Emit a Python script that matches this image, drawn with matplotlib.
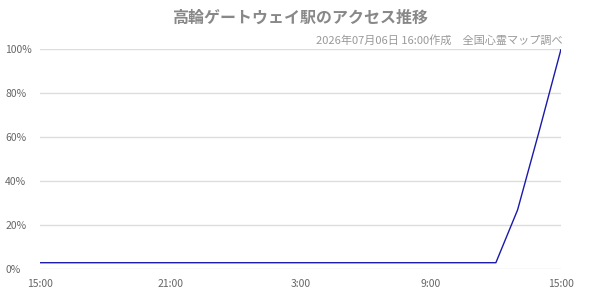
import matplotlib
matplotlib.use("Agg")
import matplotlib.pyplot as plt
import matplotlib.transforms as mtransforms

plt.rcParams['font.family'] = ['Noto Sans CJK JP', 'DejaVu Sans']

title = "高輪ゲートウェイ駅のアクセス推移"
subtitle = "2026年07月06日 16:00作成　全国心霊マップ調べ"

# hours since 15:00 the previous day
hours = list(range(25))
access = [3, 3, 3, 3, 3, 3, 3, 3, 3, 3, 3, 3, 3, 3, 3, 3, 3, 3, 3, 3, 3, 3, 27, 63, 100]

tick_pos = [0, 6, 12, 18, 24]
tick_labels = ["15:00", "21:00", "3:00", "9:00", "15:00"]
y_ticks = [0, 20, 40, 60, 80, 100]

fig = plt.figure(figsize=(6, 3), dpi=100)
ax = fig.add_axes([0.0667, 0.1023, 0.8683, 0.7334])

ax.plot(hours, access, color="#1a1aa8", linewidth=1)

ax.set_xlim(0, 24)
ax.set_ylim(0, 100)
ax.set_xticks(tick_pos)
ax.set_xticklabels(tick_labels)
ax.set_yticks(y_ticks)
ax.set_yticklabels([f"{v}%" for v in y_ticks])
for lbl in ax.get_yticklabels():
    lbl.set_horizontalalignment("left")

# x labels sit a little left of their ticks in the original
shift = mtransforms.ScaledTranslation(-4 / 72, 0, fig.dpi_scale_trans)
for lbl in ax.get_xticklabels():
    lbl.set_transform(lbl.get_transform() + shift)

ax.tick_params(axis="both", length=0, labelsize=7.5, colors="#666666")
ax.tick_params(axis="y", pad=25)
ax.tick_params(axis="x", pad=7)
ax.grid(axis="y", color="#dddddd", linewidth=1)
ax.set_axisbelow(True)
for s in ax.spines.values():
    s.set_visible(False)

fig.text(0.5, 0.94, title, ha="center", va="center", fontsize=11.5,
         fontweight="bold", color="#888888")
fig.text(0.937, 0.865, subtitle, ha="right", va="center", fontsize=8,
         color="#999999")

fig.savefig("out.png", dpi=100)
